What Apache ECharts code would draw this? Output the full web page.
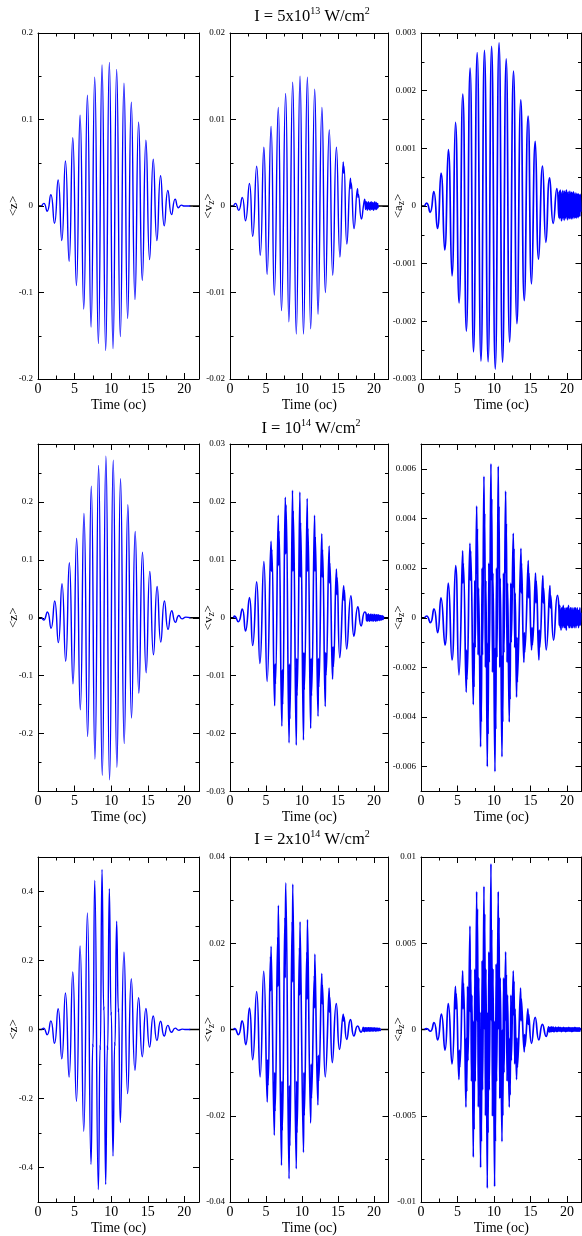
<!DOCTYPE html>
<html><head><meta charset="utf-8">
<script src="https://cdn.jsdelivr.net/npm/echarts@6/dist/echarts.min.js"></script>
<style>html,body{margin:0;padding:0;background:#fff}#c{width:582px;height:1236px}</style>
</head><body><div id="c"></div>
<script>
// ---------- DATA (time in optical cycles, value) ----------
const timeTicks = [0, 5, 10, 15, 20];
// black reference trace, visible only where the blue trace is absent
const leadTrace = [[0, 0], [0.6, 0]];
const traceEndStart = [20.7, 20.55, 21.9, 20.7, 21.3, 21.9, 20.7, 20.9, 21.9];

const zLow = [[0.5,0],[0.8,0.003],[1.25,-0.006],[1.75,0.013],[2.25,-0.02],[2.75,0.03],[3.25,-0.04],[3.75,0.052],[4.25,-0.064],[4.75,0.079],[5.25,-0.092],[5.75,0.105],[6.25,-0.119],[6.75,0.128],[7.25,-0.14],[7.75,0.149],[8.25,-0.159],[8.75,0.163],[9.25,-0.167],[9.75,0.166],[10.25,-0.165],[10.75,0.158],[11.25,-0.151],[11.75,0.142],[12.25,-0.13],[12.75,0.12],[13.25,-0.108],[13.75,0.097],[14.25,-0.086],[14.75,0.076],[15.25,-0.062],[15.75,0.054],[16.25,-0.04],[16.75,0.035],[17.25,-0.023],[17.75,0.018],[18.25,-0.01],[18.75,0.008],[19.2,-0.002],[19.6,0.001],[20.0,0],[20.8,0]];
const zLowTicks = [-0.2, -0.1, 0, 0.1, 0.2];

const vLow = [[0.5,0],[0.75,0.0003],[1.2,-0.0005],[1.7,0.001],[2.15,-0.0017],[2.7,0.0026],[3.15,-0.0035],[3.7,0.0046],[4.2,-0.0057],[4.7,0.0068],[5.15,-0.0079],[5.7,0.0092],[6.15,-0.0103],[6.7,0.0114],[7.15,-0.0121],[7.72,0.013],[8.17,-0.0134],[8.7,0.0143],[9.2,-0.0148],[9.72,0.015],[10.2,-0.0148],[10.74,0.0149],[11.2,-0.0142],[11.76,0.0135],[12.22,-0.0125],[12.76,0.0114],[13.24,-0.01],[13.78,0.0088],[14.26,-0.008],[14.77,0.0068],[15.26,-0.0059],[15.72,0.0051],[15.77,0.0038],[15.82,0.0046],[16.22,-0.0044],[16.72,0.0032],[16.77,0.002],[16.82,0.0027],[17.22,-0.0026],[17.7,0.002],[17.76,0.001],[17.8,0.0014],[18.24,-0.0015],[18.55,0.0002],[18.7,0.0008],[18.82,-0.0004]];
const vLowTail = [0.0005,-0.0003,0.0004,-0.0005,0.0003,-0.0004,0.0005,-0.0003,0.0004,-0.0004,0.0003,-0.0005,0.0004,-0.0003,0.0005,-0.0004,0.0003,-0.0004,0.0004,-0.0003,0.0003,-0.0005,0.0004,-0.0003,0.0005,-0.0004,0.0003,-0.0003,0.0004,-0.0004,0.0003,-0.0003,0.0003,-0.0002,0];
const vLowTicks = [-0.02, -0.01, 0, 0.01, 0.02];

const aLow = [[0.5,0],[0.78,0.00005],[1.25,-0.00011],[1.75,0.00025],[2.25,-0.00039],[2.75,0.00057],[3.25,-0.00076],[3.75,0.00098],[4.25,-0.00121],[4.73,0.00145],[5.22,-0.00168],[5.73,0.00194],[6.22,-0.00217],[6.73,0.00239],[7.2,-0.00253],[7.7,0.00266],[8.22,-0.00269],[8.7,0.0027],[9.2,-0.0027],[9.68,0.00277],[10.18,-0.00283],[10.7,0.00283],[11.18,-0.00271],[11.68,0.00255],[12.15,-0.00236],[12.68,0.00234],[13.15,-0.00204],[13.68,0.00184],[14.15,-0.00164],[14.68,0.00156],[15.15,-0.00135],[15.66,0.00112],[16.12,-0.00092],[16.66,0.00069],[17.12,-0.00063],[17.63,0.00049],[18.12,-0.0003],[18.62,0.0003]];
const aLowTail = [-0.0002,0.00025,-0.00022,0.00028,-0.0002,0.00024,-0.00026,0.0002,-0.00022,0.00027,-0.0002,0.00022,-0.00025,0.00026,-0.0002,0.00023,-0.00022,0.00028,-0.00018,0.00022,-0.00024,0.00025,-0.0002,0.0002,-0.00022,0.00026,-0.00019,0.00022,-0.00023,0.00024,-0.0002,0.00021,-0.00022,0.00025,-0.00018,0.0002,-0.00021,0.00023,-0.0002,0.00019,-0.00021,0.00022,-0.00018,0.0002,-0.0002,0.00021,-0.00017,0.00019,-0.00018,0.0002,-0.0001];
const aLowTicks = [-0.003, -0.002, -0.001, 0, 0.001, 0.002, 0.003];

const zMid = [[0.5,0],[0.78,-0.004],[1.28,0.01],[1.78,-0.018],[2.28,0.029],[2.78,-0.043],[3.28,0.059],[3.78,-0.075],[4.28,0.095],[4.78,-0.114],[5.28,0.137],[5.78,-0.159],[6.28,0.18],[6.78,-0.205],[7.28,0.227],[7.78,-0.244],[8.28,0.263],[8.78,-0.272],[9.28,0.279],[9.78,-0.28],[10.28,0.272],[10.78,-0.258],[11.28,0.24],[11.78,-0.217],[12.28,0.195],[12.78,-0.173],[13.28,0.149],[13.78,-0.13],[14.28,0.113],[14.78,-0.095],[15.28,0.08],[15.78,-0.064],[16.28,0.054],[16.78,-0.042],[17.28,0.029],[17.78,-0.02],[18.28,0.012],[18.78,-0.008],[19.25,0.004],[19.7,-0.002],[20.2,0.001],[20.8,0]];
const zMidTicks = [-0.2, -0.1, 0, 0.1, 0.2];

const vMid = [[0.5,0],[0.62,0.0003],[1.15,-0.0007],[1.7,0.0015],[2.15,-0.0023],[2.7,0.0035],[3.15,-0.0048],[3.7,0.0062],[4.15,-0.0079],[4.7,0.0097],
[5.15,-0.011],[5.7,0.0132],[5.75,0.008],[5.8,0.0118],
[6.2,-0.0152],[6.26,-0.008],[6.3,-0.0115],[6.7,0.0177],[6.75,0.009],[6.8,0.015],
[7.2,-0.0187],[7.26,-0.009],[7.31,-0.015],[7.68,0.0208],[7.73,0.011],[7.78,0.0195],
[8.2,-0.0216],[8.26,-0.008],[8.31,-0.0175],[8.68,0.022],[8.73,0.008],[8.78,0.0185],
[9.2,-0.022],[9.26,-0.007],[9.31,-0.0135],[9.7,0.0217],[9.75,0.007],[9.8,0.0165],
[10.2,-0.0211],[10.26,-0.006],[10.31,-0.0125],[10.72,0.0206],[10.77,0.008],[10.82,0.0155],
[11.2,-0.0191],[11.26,-0.007],[11.31,-0.0135],[11.74,0.0177],[11.79,0.008],[11.84,0.014],
[12.22,-0.017],[12.28,-0.007],[12.33,-0.012],[12.74,0.0145],[12.79,0.007],[12.84,0.0118],
[13.22,-0.0153],[13.28,-0.006],[13.33,-0.01],[13.76,0.0124],[13.81,0.006],[13.86,0.0095],
[14.24,-0.0106],[14.3,-0.005],[14.35,-0.0085],[14.77,0.0084],[14.82,0.004],[14.87,0.007],
[15.24,-0.0069],[15.78,0.0055],[15.83,0.003],[15.88,0.0048],
[16.2,-0.0054],[16.78,0.0038],[17.2,-0.0032],[17.75,0.0019],[18.2,-0.0014],[18.7,0.001]];
const vMidTail = [0.0006,-0.0005,0.0004,-0.0006,0.0005,-0.0004,0.0007,-0.0005,0.0004,-0.0006,0.0005,-0.0004,0.0006,-0.0005,0.0004,-0.0005,0.0006,-0.0004,0.0005,-0.0006,0.0004,-0.0005,0.0006,-0.0004,0.0005,-0.0005,0.0004,-0.0006,0.0005,-0.0004,0.0005,-0.0005,0.0004,-0.0004,0.0005,-0.0004,0.0004,-0.0005,0.0004,-0.0004,0.0004,-0.0004,0.0003,-0.0004,0.0004,-0.0003,0.0003,-0.0003,0.0002,0];
const vMidTicks = [-0.03, -0.02, -0.01, 0, 0.01, 0.02, 0.03];

const aMid = [[0.5,0],[0.78,0.00007],[1.28,-0.0002],[1.78,0.00036],[2.28,-0.0006],[2.74,0.0008],[3.29,-0.0011],[3.74,0.0014],[4.25,-0.0017],[4.75,0.0021],
[5.2,-0.0023],[5.71,0.0027],[5.75,0.0014],[5.8,0.0022],
[6.2,-0.003],[6.25,-0.0013],[6.3,-0.0025],[6.71,0.003],[6.76,0.0015],[6.81,0.0027],
[7.17,-0.0035],[7.22,-0.001],[7.27,-0.0028],[7.37,0.0015],[7.43,-0.0012],[7.63,0.0045],[7.68,0.0018],[7.73,0.0036],[7.83,-0.0015],[7.89,0.0012],
[8.17,-0.0052],[8.22,-0.0015],[8.27,-0.0042],[8.37,0.002],[8.43,-0.0015],[8.63,0.0057],[8.68,0.002],[8.73,0.0042],[8.83,-0.002],[8.89,0.0015],
[9.09,-0.006],[9.15,-0.001],[9.2,-0.0047],[9.3,0.0022],[9.36,-0.0018],[9.59,0.0062],[9.64,0.0015],[9.7,0.0048],[9.8,-0.0022],[9.86,0.0018],
[10.14,-0.0062],[10.2,-0.0012],[10.25,-0.0045],[10.35,0.002],[10.41,-0.0016],[10.59,0.0061],[10.64,0.002],[10.7,0.0045],[10.8,-0.002],[10.86,0.0016],
[11.1,-0.0056],[11.16,-0.0015],[11.21,-0.0042],[11.31,0.0018],[11.37,-0.0014],[11.6,0.0051],[11.65,0.0018],[11.7,0.0038],[11.8,-0.0018],[11.86,0.0014],
[12.1,-0.0042],[12.16,-0.001],[12.21,-0.0033],[12.31,0.0014],[12.37,-0.001],[12.65,0.0034],[12.7,0.0012],[12.75,0.0028],[12.85,-0.0012],[12.91,0.001],
[13.1,-0.0032],[13.16,-0.0008],[13.21,-0.0026],[13.7,0.0028],[13.74,0.001],[13.78,0.0022],
[14.1,-0.0018],[14.16,-0.0006],[14.21,-0.0014],[14.7,0.0023],[14.75,0.0008],[14.8,0.0018],
[15.16,-0.0013],[15.22,-0.0004],[15.27,-0.0011],[15.7,0.0018],[15.75,0.0006],[15.8,0.0015],
[16.16,-0.0017],[16.22,-0.0005],[16.27,-0.0012],[16.7,0.0017],[16.75,0.0006],[16.8,0.0012],
[17.17,-0.0013],[17.67,0.0013],[17.72,0.0004],[17.77,0.0009],[18.17,-0.0009],[18.7,0.0009]];
const aMidTail = [0.0004,-0.0003,0.0005,-0.0004,0.0003,-0.0005,0.0004,-0.0003,0.0004,-0.0004,0.0005,-0.0003,0.0003,-0.0004,0.0004,-0.0004,0.0003,-0.0005,0.0004,-0.0003,0.0004,-0.0003,0.0005,-0.0004,0.0003,-0.0004,0.0004,-0.0003,0.0004,-0.0004,0.0003,-0.0004,0.0004,-0.0003,0.0003,-0.0004,0.0004,-0.0003,0.0004,-0.0004,0.0003,-0.0003,0.0004,-0.0003,0.0003,-0.0004,0.0003,-0.0003,0.0004,-0.0003,0.0002];
const aMidTicks = [-0.006, -0.004, -0.002, 0, 0.002, 0.004, 0.006];

const zHigh = [[0.5,0],[0.75,0.004],[1.25,-0.015],[1.75,0.025],[2.25,-0.04],[2.75,0.06],[3.25,-0.085],[3.75,0.106],[4.25,-0.138],[4.75,0.167],[5.25,-0.208],[5.75,0.242],[6.25,-0.295],[6.75,0.338],[7.25,-0.391],[7.49,-0.04],[7.51,-0.052],[7.75,0.432],[8.25,-0.464],[8.49,-0.045],[8.51,-0.06],[8.75,0.464],[8.99,0.055],[9.01,0.068],[9.25,-0.449],[9.49,-0.045],[9.51,-0.06],[9.75,0.408],[9.99,0.04],[10.01,0.052],[10.25,-0.367],[10.49,-0.035],[10.51,-0.048],[10.75,0.314],[10.99,0.05],[11.01,0.062],[11.25,-0.27],[11.75,0.224],[12.25,-0.186],[12.75,0.147],[13.25,-0.118],[13.75,0.092],[14.25,-0.079],[14.75,0.061],[15.25,-0.051],[15.75,0.039],[16.25,-0.032],[16.75,0.024],[17.25,-0.019],[17.75,0.012],[18.25,-0.008],[18.75,0.004],[19.25,-0.002],[19.7,0.001],[20.2,0],[20.8,0]];
const zHighTicks = [-0.4, -0.2, 0, 0.2, 0.4];

const vHigh = [[0.5,0],[0.65,0.0002],[1.15,-0.0012],[1.68,0.002],[2.18,-0.0035],[2.7,0.005],[3.15,-0.007],[3.7,0.0088],[4.18,-0.011],[4.68,0.0135],
[5.17,-0.0168],[5.23,-0.007],[5.28,-0.013],[5.62,0.017],[5.66,0.009],[5.7,0.0193],
[6.15,-0.0245],[6.21,-0.01],[6.26,-0.019],[6.62,0.0215],[6.66,0.01],[6.71,0.0288],
[7.15,-0.0315],[7.21,-0.012],[7.26,-0.0235],[7.62,0.026],[7.66,0.012],[7.73,0.034],
[8.2,-0.0346],[8.26,-0.013],[8.31,-0.027],[8.62,0.025],[8.66,0.011],[8.71,0.0337],
[9.2,-0.0323],[9.26,-0.012],[9.31,-0.024],[9.64,0.019],[9.68,0.008],[9.72,0.025],
[10.2,-0.0285],[10.26,-0.01],[10.31,-0.02],[10.66,0.018],[10.7,0.007],[10.75,0.0255],
[11.2,-0.0217],[11.26,-0.008],[11.31,-0.016],[11.7,0.0125],[11.74,0.005],[11.78,0.0175],
[12.2,-0.0175],[12.26,-0.006],[12.31,-0.012],[12.74,0.013],[12.78,0.006],[12.82,0.0105],
[13.22,-0.011],[13.76,0.0096],[13.8,0.004],[13.85,0.0075],
[14.2,-0.0077],[14.75,0.006],[15.2,-0.0046],[15.72,0.0035],[15.76,0.002],[15.8,0.003],
[16.2,-0.0023],[16.72,0.0023],[17.2,-0.0015],[17.72,0.0008],[18.2,-0.0006]];
const vHighTail = [0.0005,-0.0004,0.0003,-0.0005,0.0004,-0.0003,0.0004,-0.0004,0.0003,-0.0004,0.0004,-0.0003,0.0003,-0.0004,0.0004,-0.0003,0.0004,-0.0004,0.0003,-0.0003,0.0004,-0.0004,0.0003,-0.0003,0.0004,-0.0003,0.0003,-0.0004,0.0003,-0.0003,0.0004,-0.0003,0.0003,-0.0003,0.0003,-0.0004,0.0003,-0.0003,0.0003,-0.0003,0.0003,-0.0003,0.0002,-0.0003,0.0003,-0.0002,0.0002,-0.0002,0.0001,0];
const vHighTicks = [-0.04, -0.02, 0, 0.02, 0.04];

const aHigh = [[0.5,0],[0.78,0.00005],[1.28,-0.0001],[1.78,0.0004],[2.28,-0.0006],[2.79,0.0009],[3.29,-0.0012],[3.74,0.0015],[4.25,-0.002],[4.72,0.0025],[4.77,0.0012],[4.83,0.0021],
[5.2,-0.0029],[5.26,-0.0012],[5.32,-0.0022],[5.71,0.0034],[5.76,0.0012],[5.82,0.0027],
[6.16,-0.0045],[6.21,-0.0005],[6.27,-0.0036],[6.38,0.0025],[6.44,-0.0018],[6.71,0.006],[6.76,0.001],[6.82,0.0035],[6.92,-0.003],[6.98,0.002],
[7.17,-0.0074],[7.22,0.0005],[7.28,-0.0058],[7.38,0.0035],[7.44,-0.003],[7.63,0.008],[7.68,0.0005],[7.74,0.007],[7.86,-0.0045],[7.92,0.003],
[8.17,-0.008],[8.22,0.001],[8.28,-0.0065],[8.38,0.004],[8.44,-0.0035],[8.63,0.0083],[8.68,0],[8.74,0.0067],[8.84,-0.005],[8.9,0.0035],
[9.09,-0.0092],[9.15,0.001],[9.2,-0.006],[9.3,0.0045],[9.36,-0.0035],[9.59,0.0096],[9.64,0.0005],[9.7,0.0058],[9.8,-0.005],[9.86,0.0035],
[10.09,-0.0091],[10.15,0.0005],[10.2,-0.0065],[10.3,0.0038],[10.36,-0.003],[10.59,0.008],[10.64,0],[10.7,0.0065],[10.8,-0.004],[10.86,0.003],
[11.1,-0.0065],[11.16,0],[11.22,-0.005],[11.32,0.003],[11.38,-0.0025],[11.6,0.0045],[11.65,0.0005],[11.7,0.0032],[11.8,-0.003],[11.86,0.002],
[12.1,-0.0045],[12.16,-0.0005],[12.22,-0.0038],[12.32,0.002],[12.38,-0.0018],[12.65,0.0034],[12.7,0.0008],[12.75,0.0028],[12.85,-0.002],[12.9,0.0012],
[13.1,-0.0029],[13.16,-0.0005],[13.22,-0.0022],[13.65,0.0024],[13.7,0.0005],[13.75,0.0018],
[14.15,-0.0013],[14.2,-0.0003],[14.25,-0.001],[14.65,0.0012],[14.7,0.0003],[14.75,0.0009],
[15.15,-0.0008],[15.65,0.0007],[16.15,-0.0006],[16.65,0.0003],[17.15,-0.0004]];
const aHighTail = [0.00015,-0.00012,0.0001,-0.00015,0.00012,-0.0001,0.00015,-0.00012,0.0001,-0.0001,0.00015,-0.00012,0.0001,-0.00013,0.0001,-0.0001,0.00014,-0.0001,0.0001,-0.00013,0.0001,-0.0001,0.00014,-0.0001,0.0001,-0.0001,0.00013,-0.0001,0.0001,-0.00013,0.0001,-0.0001,0.0001,-0.0001,0.00013,-0.0001,0.0001,-0.0001,0.0001,-0.00013,0.0001,-0.0001,0.0001,-0.0001,0.0001,-0.0001,0.00013,-0.0001,0.0001,-0.0001,0.0001,-0.0001,0.0001,-0.00012,0.0001,-0.0001,0.0001,-0.0001,0.0001,-0.0001,0.00012,-0.0001,0.0001,-0.0001,0.0001,-0.0001,0.0001,-0.0001,0.0001,-0.0001,0.0001,-0.0001,0.00005,0];
const aHighTicks = [-0.01, -0.005, 0, 0.005, 0.01];

const rowTitles = [
  '{m|I = 5x10}{s|13}{m| W/cm}{s|2}',
  '{m|I = 10}{s|14}{m| W/cm}{s|2}',
  '{m|I = 2x10}{s|14}{m| W/cm}{s|2}'
];

// ---------- helpers ----------
function withTail(main, start, step, vals) {
  return main.concat(vals.map((v, i) => [+(start + i * step).toFixed(3), v]));
}
function multiples(min, max, step) {
  const out = [];
  const k0 = Math.ceil(min / step - 1e-6), k1 = Math.floor(max / step + 1e-6);
  for (let k = k0; k <= k1; k++) out.push(+(k * step).toFixed(8));
  return out;
}
const fmt = v => String(+(+v).toFixed(6));

const panels = [
  {data: zLow, y: [-0.2, 0.2], major: 0.1, minor: 0.05, labels: zLowTicks, name: '<z>', lw: 1.4},
  {data: withTail(vLow, 18.9, 0.05, vLowTail), y: [-0.02, 0.02], major: 0.01, minor: 0.005, labels: vLowTicks, name: '<v{sub|z}>', lw: 1.4},
  {data: withTail(aLow, 18.9, 0.06, aLowTail), y: [-0.003, 0.003], major: 0.001, minor: 0.0005, labels: aLowTicks, name: '<a{sub|z}>', lw: 1.7},
  {data: zMid, y: [-0.3, 0.3], major: 0.1, minor: 0.05, labels: zMidTicks, name: '<z>', lw: 1.4},
  {data: withTail(vMid, 18.9, 0.05, vMidTail), y: [-0.03, 0.03], major: 0.01, minor: 0.005, labels: vMidTicks, name: '<v{sub|z}>', lw: 1.6},
  {data: withTail(aMid, 18.9, 0.06, aMidTail), y: [-0.007, 0.007], major: 0.002, minor: 0.001, labels: aMidTicks, name: '<a{sub|z}>', lw: 1.7},
  {data: zHigh, y: [-0.5, 0.5], major: 0.2, minor: 0.1, labels: zHighTicks, name: '<z>', lw: 1.4},
  {data: withTail(vHigh, 18.5, 0.05, vHighTail), y: [-0.04, 0.04], major: 0.02, minor: 0.01, labels: vHighTicks, name: '<v{sub|z}>', lw: 1.6},
  {data: withTail(aHigh, 17.5, 0.06, aHighTail), y: [-0.01, 0.01], major: 0.005, minor: 0.0025, labels: aHighTicks, name: '<a{sub|z}>', lw: 1.7}
];

const cols = [{left: 38, width: 161, nameGap: 18}, {left: 230, width: 158.5, nameGap: 14}, {left: 421, width: 160.5, nameGap: 15}];
const rows = [{top: 33, height: 346}, {top: 444, height: 347.5}, {top: 857, height: 346.5}];
const FONT = 'Liberation Serif';

const grids = [], xAxes = [], yAxes = [], series = [];
const xMajor = multiples(0, 22, 5), xMinor = multiples(0, 22, 2.5);

function mkAxis(gi, position, opts) {
  const ax = {
    gridIndex: gi, type: 'value', position: position,
    min: opts.min, max: opts.max,
    axisLine: {show: !!opts.line, onZero: false, lineStyle: {color: '#000', width: 1}},
    axisTick: {show: true, inside: true, length: opts.len, customValues: opts.ticks, lineStyle: {color: '#000', width: 1}},
    axisLabel: {show: false},
    splitLine: {show: false}
  };
  if (opts.labels) {
    ax.axisLabel = Object.assign({show: true, customValues: opts.labels, formatter: fmt, fontFamily: FONT, color: '#000'}, opts.labelStyle);
  }
  if (opts.name) Object.assign(ax, opts.name);
  return ax;
}

panels.forEach((p, i) => {
  const r = Math.floor(i / 3), c = i % 3;
  grids.push({left: cols[c].left, top: rows[r].top, width: cols[c].width, height: rows[r].height});
  const xi = xAxes.length, yi = yAxes.length;
  const yMaj = multiples(p.y[0], p.y[1], p.major), yMin = multiples(p.y[0], p.y[1], p.minor);
  xAxes.push(mkAxis(i, 'bottom', {min: 0, max: 22, line: true, len: 6, ticks: xMajor, labels: timeTicks,
    labelStyle: {fontSize: 14, margin: 3},
    name: {name: 'Time (oc)', nameLocation: 'middle', nameGap: 19, nameMoveOverlap: false,
      nameTextStyle: {fontFamily: FONT, fontSize: 14, color: '#000'}}}));
  xAxes.push(mkAxis(i, 'bottom', {min: 0, max: 22, len: 3.5, ticks: xMinor}));
  xAxes.push(mkAxis(i, 'top', {min: 0, max: 22, line: true, len: 6, ticks: xMajor}));
  xAxes.push(mkAxis(i, 'top', {min: 0, max: 22, len: 3.5, ticks: xMinor}));
  yAxes.push(mkAxis(i, 'left', {min: p.y[0], max: p.y[1], line: true, len: 6, ticks: yMaj, labels: p.labels,
    labelStyle: {fontSize: 9, margin: 5},
    name: {name: p.name, nameLocation: 'middle', nameGap: cols[c].nameGap, nameRotate: 90, nameMoveOverlap: false,
      nameTextStyle: {fontFamily: FONT, fontSize: 13, color: '#000',
        rich: {sub: {fontFamily: FONT, fontSize: 9.5, color: '#000', padding: [5, 0, 0, 0]}}}}}));
  yAxes.push(mkAxis(i, 'left', {min: p.y[0], max: p.y[1], len: 3.5, ticks: yMin}));
  yAxes.push(mkAxis(i, 'right', {min: p.y[0], max: p.y[1], line: true, len: 6, ticks: yMaj}));
  yAxes.push(mkAxis(i, 'right', {min: p.y[0], max: p.y[1], len: 3.5, ticks: yMin}));
  series.push({type: 'line', xAxisIndex: xi, yAxisIndex: yi, data: leadTrace, symbol: 'none', silent: true,
    lineStyle: {color: '#000', width: 1.6}, z: 2});
  series.push({type: 'line', xAxisIndex: xi, yAxisIndex: yi, data: [[traceEndStart[i], 0], [22, 0]], symbol: 'none', silent: true,
    lineStyle: {color: '#000', width: 1.6}, z: 2});
  series.push({type: 'line', xAxisIndex: xi, yAxisIndex: yi, data: p.data, symbol: 'none', smooth: 0.55, silent: true,
    lineStyle: {color: '#0000ff', width: p.lw}, z: 3});
});

const titleCenters = [[312, 17], [311, 429], [312, 840]];
const graphic = rowTitles.map((t, r) => ({
  type: 'text', x: titleCenters[r][0], y: titleCenters[r][1], silent: true,
  style: {
    text: t, align: 'center', verticalAlign: 'middle', textAlign: 'center', textVerticalAlign: 'middle',
    rich: {
      m: {fontFamily: FONT, fontSize: 16.5, fill: '#000', lineHeight: 22},
      s: {fontFamily: FONT, fontSize: 10, fill: '#000', lineHeight: 11, verticalAlign: 'top'}
    }
  }
}));

const chart = echarts.init(document.getElementById('c'), null, {renderer: 'canvas', width: 582, height: 1236});
chart.setOption({
  animation: false,
  backgroundColor: '#fff',
  grid: grids,
  xAxis: xAxes,
  yAxis: yAxes,
  series: series,
  graphic: graphic
});
</script>
</body></html>
